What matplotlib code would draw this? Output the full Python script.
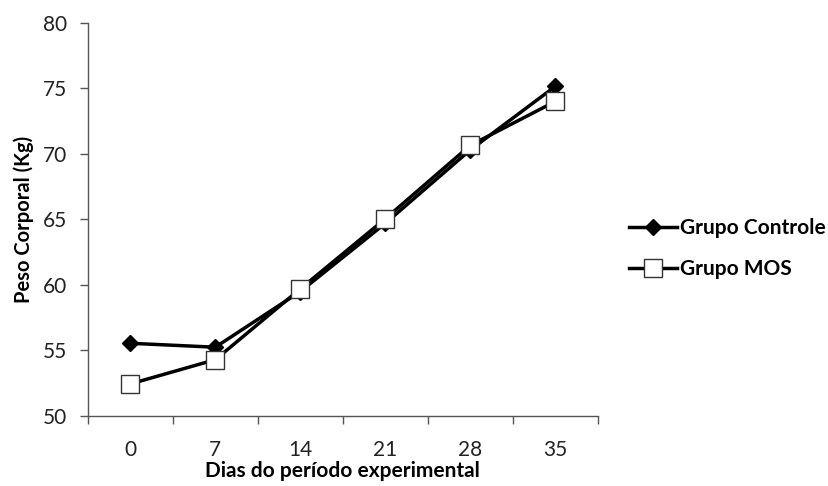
import numpy as np
import matplotlib.pyplot as plt

dias = ['0', '7', '14', '21', '28', '35']
controle = [55.55, 55.25, 59.5, 64.7, 70.3, 75.15]
mos = [52.45, 54.3, 59.7, 65.05, 70.65, 74.0]

plt.rcParams['font.family'] = ['Lato', 'DejaVu Sans']

fig = plt.figure(figsize=(8.29, 4.86), dpi=100)
ax = fig.add_axes([0.106, 0.144, 0.615, 0.809])

pos = np.arange(len(dias))
ax.plot(pos, controle, color='black', lw=2.5, marker='D', ms=8,
        mfc='black', mec='black', label='Grupo Controle', zorder=3)
ax.plot(pos, mos, color='black', lw=2.5, marker='s', ms=12.5,
        mfc='white', mec='#333333', mew=1.0, label='Grupo MOS', zorder=4)

ax.set_xlim(-0.5, len(dias) - 0.5)
ax.set_ylim(50, 80)
ax.set_yticks(np.arange(50, 81, 5))
ax.set_xticks(pos)
ax.set_xticklabels(dias)
ax.set_xticks(np.arange(-0.5, len(dias)), minor=True)
ax.tick_params(axis='x', which='major', length=0, pad=17, labelsize=15, colors='#222222')
ax.tick_params(axis='x', which='minor', length=6, width=1, color='#555555', direction='out')
ax.tick_params(axis='y', length=6, width=1, color='#555555', pad=9, labelsize=15, labelcolor='#222222')

for s in ['top', 'right']:
    ax.spines[s].set_visible(False)
for s in ['left', 'bottom']:
    ax.spines[s].set_color('#555555')
    ax.spines[s].set_linewidth(1)

ax.set_xlabel('Dias do período experimental', fontsize=15, fontweight='bold', labelpad=1)
ax.set_ylabel('Peso Corporal (Kg)', fontsize=14.5, fontweight='bold', labelpad=6)

fig.legend(loc='center left', bbox_to_anchor=(0.759, 0.488), frameon=False,
           borderpad=0, borderaxespad=0, handlelength=2.3, handletextpad=0.15,
           labelspacing=1.0, prop={'weight': 'bold', 'size': 15})

fig.savefig('out.png', dpi=100)
